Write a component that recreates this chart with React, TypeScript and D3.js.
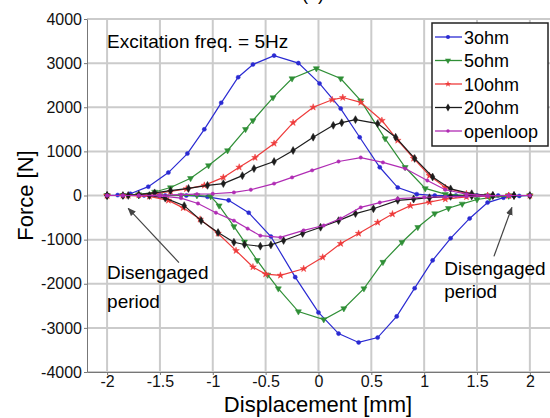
import { useEffect, useRef } from "react";
import * as d3 from "d3";

// axis ticks
const xTicks = [-2, -1.5, -1, -0.5, 0, 0.5, 1, 1.5, 2];
const yTicks = [-4000, -3000, -2000, -1000, 0, 1000, 2000, 3000, 4000];

const seriesNames = ["3ohm", "5ohm", "10ohm", "20ohm", "openloop"];
const seriesColors = ["#2a2ad2", "#2f8f36", "#ee3b3b", "#1c1c1c", "#b02cb4"];

// [displacement mm, force N]; upper branch -2 -> 2 then lower branch 2 -> -2
const ohm3: [number, number][] = [
  [-2, 0], [-1.9, 10], [-1.78, 40], [-1.61, 200], [-1.42, 520], [-1.24, 950], [-1.08, 1500],
  [-0.92, 2100], [-0.76, 2680], [-0.62, 2970], [-0.42, 3170], [-0.19, 3000], [0.01, 2540],
  [0.21, 1970], [0.39, 1320], [0.58, 640], [0.75, 180], [0.93, 30], [1.1, 0], [1.3, 0],
  [1.5, 0], [1.7, 0], [1.85, 0], [2, 0],
  [1.9, -10], [1.75, -50], [1.6, -160], [1.43, -520], [1.25, -970], [1.08, -1470],
  [0.91, -2100], [0.74, -2740], [0.56, -3220], [0.38, -3330], [0.19, -3130], [0, -2650],
  [-0.22, -1850], [-0.45, -930], [-0.66, -390], [-0.85, -110], [-1.05, -30], [-1.25, 0],
  [-1.45, 0], [-1.65, 0], [-1.85, 0], [-2, 0],
];

const ohm5: [number, number][] = [
  [-2, 0], [-1.85, 0], [-1.7, 20], [-1.55, 80], [-1.4, 180], [-1.21, 390], [-1.04, 680],
  [-0.86, 1020], [-0.69, 1500], [-0.62, 1700], [-0.43, 2220], [-0.25, 2650], [-0.02, 2880],
  [0.21, 2650], [0.4, 2150], [0.63, 1290], [0.82, 640], [1.01, 160], [1.2, 30], [1.4, 0],
  [1.6, 0], [1.8, 0], [2, 0],
  [1.8, -10], [1.62, -50], [1.5, -90], [1.36, -190], [1.23, -290], [1.1, -410], [0.94, -720],
  [0.79, -1060], [0.61, -1510], [0.43, -2110], [0.24, -2560], [0.05, -2810], [-0.19, -2630],
  [-0.38, -2110], [-0.48, -1800], [-0.58, -1470], [-0.7, -1050], [-0.8, -700], [-0.94, -230],
  [-1.02, -20], [-1.15, 0], [-1.3, 0], [-1.5, 0], [-1.7, 0], [-1.85, 0], [-2, 0],
];

const ohm10: [number, number][] = [
  [-2, 0], [-1.85, 0], [-1.7, 10], [-1.55, 40], [-1.4, 90], [-1.25, 150], [-1.08, 230],
  [-0.9, 410], [-0.75, 640], [-0.6, 860], [-0.42, 1180], [-0.24, 1650], [-0.05, 2000],
  [0.13, 2170], [0.23, 2220], [0.4, 2110], [0.6, 1700], [0.75, 1250], [0.9, 840], [1.05, 450],
  [1.2, 180], [1.4, 40], [1.6, 0], [1.8, 0], [2, 0],
  [1.8, 0], [1.6, -10], [1.4, -30], [1.2, -80], [1.05, -150], [0.87, -230], [0.7, -420],
  [0.56, -610], [0.38, -860], [0.21, -1090], [0.04, -1400], [-0.14, -1660], [-0.36, -1810],
  [-0.5, -1780], [-0.62, -1620], [-0.78, -1250], [-0.95, -860], [-1.12, -540], [-1.28, -280],
  [-1.42, -110], [-1.6, -20], [-1.8, 0], [-2, 0],
];

const ohm20: [number, number][] = [
  [-2, 0], [-1.85, 0], [-1.7, 20], [-1.55, 60], [-1.4, 110], [-1.23, 160], [-1.05, 230],
  [-0.9, 270], [-0.72, 450], [-0.61, 610], [-0.42, 770], [-0.24, 1020], [-0.05, 1320],
  [0.14, 1590], [0.22, 1650], [0.35, 1720], [0.56, 1630], [0.73, 1320], [0.91, 840],
  [1.08, 420], [1.25, 150], [1.45, 40], [1.65, 0], [1.85, 0], [2, 0],
  [1.85, 0], [1.65, 0], [1.45, -10], [1.25, -20], [1.05, -50], [0.9, -80], [0.75, -110],
  [0.52, -300], [0.35, -410], [0.19, -570], [0.02, -720], [-0.15, -860], [-0.33, -1020],
  [-0.45, -1120], [-0.55, -1150], [-0.7, -1110], [-0.8, -1060], [-0.95, -840], [-1.11, -570],
  [-1.27, -230], [-1.45, -60], [-1.6, 0], [-1.8, 0], [-2, 0],
];

const openloop: [number, number][] = [
  [-2, 0], [-1.85, 0], [-1.7, 0], [-1.5, 10], [-1.3, 20], [-1.15, 30], [-1.0, 40], [-0.8, 70],
  [-0.64, 130], [-0.42, 270], [-0.25, 410], [-0.06, 570], [0.19, 770], [0.4, 860], [0.61, 750],
  [0.82, 610], [1.03, 340], [1.2, 130], [1.4, 30], [1.6, 0], [1.8, 0], [2, 0],
  [1.8, 0], [1.6, -10], [1.4, -20], [1.2, -30], [1.0, -40], [0.75, -70], [0.58, -160],
  [0.4, -270], [0.21, -520], [0.05, -680], [-0.14, -790], [-0.36, -950], [-0.55, -910],
  [-0.67, -750], [-0.8, -570], [-0.97, -390], [-1.14, -180], [-1.3, -60], [-1.5, -10],
  [-1.7, 0], [-1.85, 0], [-2, 0],
];

const allSeries = [ohm3, ohm5, ohm10, ohm20, openloop];

const FONT = "'Liberation Sans', Arial, sans-serif";

const App = () => {
  const ref = useRef<SVGSVGElement>(null);

  useEffect(() => {
    document.body.style.margin = "0";
    if (!ref.current) return;
    const svg = d3.select(ref.current);
    svg.selectAll("*").remove();

    const x = d3.scaleLinear().domain([-2.19, 2.2]).range([87, 551]);
    const y = d3.scaleLinear().domain([-4000, 4000]).range([372, 19]);
    const [x0, x1] = x.range();
    const [y0, y1] = y.range();

    svg.append("rect").attr("width", 550).attr("height", 418).attr("fill", "#fff");

    // title, mostly cut off at the top
    svg.append("text")
      .attr("x", 313).attr("y", 0)
      .attr("text-anchor", "middle")
      .style("font-family", FONT).style("font-size", "18px")
      .text("(a)");

    // grid
    const grid = svg.append("g").attr("stroke", "#cbcbcb").attr("stroke-width", 2);
    xTicks.forEach((t) => {
      grid.append("line").attr("x1", x(t)).attr("x2", x(t)).attr("y1", y1).attr("y2", y0);
    });
    yTicks.forEach((t) => {
      grid.append("line").attr("x1", x0).attr("x2", x1).attr("y1", y(t)).attr("y2", y(t));
    });

    // axes
    const yAxis = svg.append("g")
      .attr("transform", `translate(${x0},0)`)
      .call(d3.axisLeft(y).tickValues(yTicks).tickSize(3).tickSizeOuter(0).tickPadding(2)
        .tickFormat((d) => String(d)));
    yAxis.selectAll("path, line").attr("stroke", "#777");
    yAxis.selectAll("text")
      .style("font-family", FONT).style("font-size", "16px").attr("fill", "#111");

    const xAxis = svg.append("g")
      .attr("transform", `translate(0,${y0})`)
      .call(d3.axisBottom(x).tickValues(xTicks).tickSize(3).tickSizeOuter(0).tickPadding(1)
        .tickFormat((d) => String(d)));
    xAxis.selectAll("path, line").attr("stroke", "#777");
    xAxis.selectAll("text")
      .style("font-family", FONT).style("font-size", "16px").attr("fill", "#111");

    // axis titles
    svg.append("text")
      .attr("x", 318).attr("y", 412)
      .attr("text-anchor", "middle")
      .style("font-family", FONT).style("font-size", "22px")
      .text("Displacement [mm]");
    svg.append("text")
      .attr("transform", `translate(33,${(y0 + y1) / 2}) rotate(-90)`)
      .attr("text-anchor", "middle")
      .style("font-family", FONT).style("font-size", "22px")
      .text("Force [N]");

    // curves
    const line = d3.line<[number, number]>()
      .x((d) => x(d[0]))
      .y((d) => y(d[1]));

    const symbols = [d3.symbolCircle, d3.symbolTriangle, d3.symbolStar, d3.symbolDiamond, d3.symbolCircle];
    const sizes = [13, 16, 14, 18, 9];
    const rotations = [0, 180, 0, 0, 0];

    allSeries.forEach((data, i) => {
      const color = seriesColors[i];
      svg.append("path")
        .datum(data)
        .attr("fill", "none")
        .attr("stroke", color)
        .attr("stroke-width", 1.2)
        .attr("d", line);
      const sym = d3.symbol().type(symbols[i]).size(sizes[i]);
      svg.append("g")
        .selectAll("path")
        .data(data)
        .enter()
        .append("path")
        .attr("d", sym)
        .attr("transform", (d) => `translate(${x(d[0])},${y(d[1])}) rotate(${rotations[i]})`)
        .attr("fill", color)
        .attr("stroke", color)
        .attr("stroke-width", 0.5);
    });

    // annotation text
    svg.append("text")
      .attr("x", x(-2.0)).attr("y", y(3350))
      .style("font-family", FONT).style("font-size", "19px")
      .text("Excitation freq. = 5Hz");

    const notes = [
      { tx: -2.0, ty: -1900, ty2: -2560, from: [-1.32, -1520], to: [-1.8, -290] },
      { tx: 1.19, ty: -1810, ty2: -2330, from: [1.66, -1380], to: [1.83, -270] },
    ];
    svg.append("defs").append("marker")
      .attr("id", "arrowhead")
      .attr("viewBox", "0 0 10 10")
      .attr("refX", 9).attr("refY", 5)
      .attr("markerWidth", 7).attr("markerHeight", 7)
      .attr("orient", "auto")
      .append("path")
      .attr("d", "M0,1 L10,5 L0,9 z")
      .attr("fill", "#444");
    notes.forEach((n) => {
      svg.append("line")
        .attr("x1", x(n.from[0])).attr("y1", y(n.from[1]))
        .attr("x2", x(n.to[0])).attr("y2", y(n.to[1]))
        .attr("stroke", "#444").attr("stroke-width", 1.2)
        .attr("marker-end", "url(#arrowhead)");
      svg.append("text")
        .attr("x", x(n.tx)).attr("y", y(n.ty))
        .style("font-family", FONT).style("font-size", "19px")
        .text("Disengaged");
      svg.append("text")
        .attr("x", x(n.tx)).attr("y", y(n.ty2))
        .style("font-family", FONT).style("font-size", "19px")
        .text("period");
    });

    // legend
    const lg = svg.append("g").attr("transform", "translate(432,23)");
    lg.append("rect")
      .attr("width", 116).attr("height", 123)
      .attr("fill", "#fff")
      .attr("stroke", "#222").attr("stroke-width", 1.5);
    seriesNames.forEach((name, i) => {
      const cy = 14 + i * 23.5;
      const color = seriesColors[i];
      lg.append("line")
        .attr("x1", 3).attr("x2", 30).attr("y1", cy).attr("y2", cy)
        .attr("stroke", color).attr("stroke-width", 1.3);
      lg.append("path")
        .attr("d", d3.symbol().type(symbols[i]).size(sizes[i])())
        .attr("transform", `translate(16,${cy}) rotate(${rotations[i]})`)
        .attr("fill", color);
      lg.append("text")
        .attr("x", 32).attr("y", cy + 6.5)
        .style("font-family", FONT).style("font-size", "18px")
        .text(name);
    });
  }, []);

  return <svg ref={ref} width={550} height={418} style={{ display: "block" }} />;
};

export default App;
